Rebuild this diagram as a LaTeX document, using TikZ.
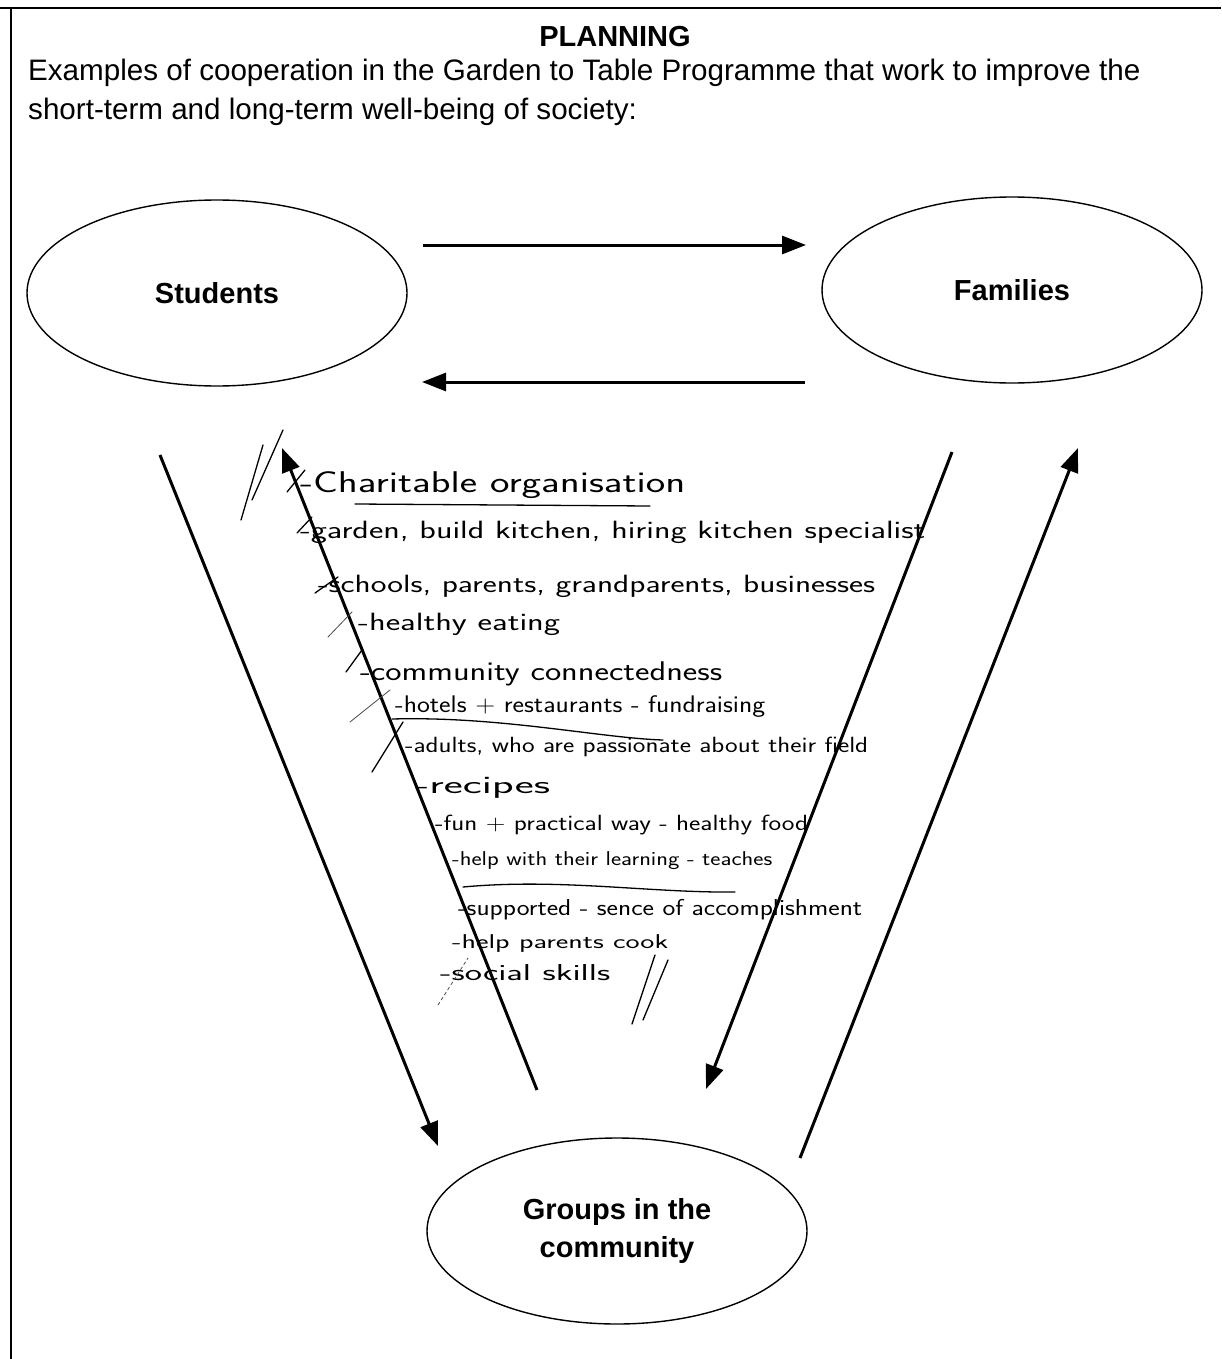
\documentclass[tikz,border=0pt]{standalone}
\usepackage{fontspec}
\setmainfont{Liberation Sans}
\newfontfamily\handfont{Latin Modern Sans}
\usetikzlibrary{arrows.meta,shapes.geometric}
\tikzset{
  party/.style={draw=black, line width=1.4pt, ellipse, minimum width=380pt, minimum height=186pt, font=\fontsize{29}{34}\selectfont\bfseries, align=center},
  flow/.style={draw=black, line width=3pt, -{Triangle[length=24pt,width=18pt]}},
  hw/.style={anchor=base west, inner sep=0pt},
  ink/.style={draw=black, line width=1.3pt, line cap=round},
  faint/.style={draw=black!70, line width=0.8pt, line cap=round}
}
\newcommand{\hwline}[3]{\resizebox{#1pt}{\height}{\handfont\fontsize{#2}{#2}\selectfont #3}}
\begin{document}
\begin{tikzpicture}[x=1pt,y=-1pt]
\useasboundingbox (0,0) rectangle (1221,1359);
\fill[white] (0,0) rectangle (1221,1359);
% frame
\draw[line width=2pt] (0,8) -- (1221,8);
\draw[line width=2pt] (11,8) -- (11,1359);
% title and intro
\node[font=\fontsize{29}{34}\selectfont\bfseries] (title) at (615,37) {PLANNING};
\node[anchor=base west, inner sep=0pt, font=\fontsize{29.6}{34}\selectfont] (intro1) at (28,81) {Examples of cooperation in the Garden to Table Programme that work to improve the};
\node[anchor=base west, inner sep=0pt, font=\fontsize{29.6}{34}\selectfont] (intro2) at (28,120) {short-term and long-term well-being of society:};
% nodes
\node[party] (s) at (217,293) {Students};
\node[party] (f) at (1012,290) {Families};
\node[party] (g) at (617,1231) {Groups in the\\[4pt]community};
% connector end points
\coordinate (sfA) at (423,245);
\coordinate (sfB) at (806,245);
\coordinate (fsA) at (805,382);
\coordinate (fsB) at (422,382);
\coordinate (sgA) at (160,455);
\coordinate (sgB) at (438,1146);
\coordinate (gsA) at (537,1090);
\coordinate (gsB) at (282,448);
\coordinate (fgA) at (952,452);
\coordinate (fgB) at (706,1089);
\coordinate (gfA) at (800,1158);
\coordinate (gfB) at (1078,448);
\draw[flow] (sfA) -- (sfB);
\draw[flow] (fsA) -- (fsB);
\draw[flow] (sgA) -- (sgB);
\draw[flow] (gsA) -- (gsB);
\draw[flow] (fgA) -- (fgB);
\draw[flow] (gfA) -- (gfB);
% handwritten notes
\node[hw] (n1) at (300,492) {\hwline{385}{30}{-Charitable organisation}};
\node[hw] (n2) at (300,538) {\hwline{625}{25}{-garden, build kitchen, hiring kitchen specialist}};
\node[hw] (n3) at (318,592) {\hwline{557}{25}{-schools, parents, grandparents, businesses}};
\node[hw] (n4) at (358,630) {\hwline{202}{25}{-healthy eating}};
\node[hw] (n5) at (360,680) {\hwline{362}{27}{-community connectedness}};
\node[hw] (n6) at (395,712) {\hwline{370}{24}{-hotels + restaurants - fundraising}};
\node[hw] (n7) at (405,752) {\hwline{463}{22}{-adults, who are passionate about their field}};
\node[hw] (n8) at (415,793) {\hwline{135}{25}{-recipes}};
\node[hw] (n9) at (435,830) {\hwline{373}{22}{-fun + practical way - healthy food}};
\node[hw] (n10) at (452,865) {\hwline{320}{20}{-help with their learning - teaches}};
\node[hw] (n11) at (458,915) {\hwline{404}{23}{-supported - sence of accomplishment}};
\node[hw] (n12) at (452,948) {\hwline{216}{20}{-help parents cook}};
\node[hw] (n13) at (440,980) {\hwline{170}{23}{-social skills}};
% underlines
\draw[ink] (355,504) -- (650,506);
\draw[ink] (392,719) .. controls (500,716) and (600,738) .. (663,740);
\draw[ink] (463,887) .. controls (560,878) and (650,893) .. (735,892);
% tick marks
\draw[ink] (287,492) -- (305,470);
\draw[ink] (297,533) -- (312,517);
\draw[ink] (315,593) -- (338,577);
\draw[faint] (328,637) -- (352,612);
\draw[ink] (346,672) -- (362,650);
\draw[faint] (350,722) -- (390,690);
\draw[ink] (372,772) -- (403,722);
\draw[faint, dashed] (438,1005) -- (468,958);
% double slashes
\draw[ink] (241,520) -- (263,445);
\draw[ink] (252,500) -- (283,430);
\draw[ink] (632,1024) -- (655,955);
\draw[ink] (643,1020) -- (668,960);
\end{tikzpicture}
\end{document}
